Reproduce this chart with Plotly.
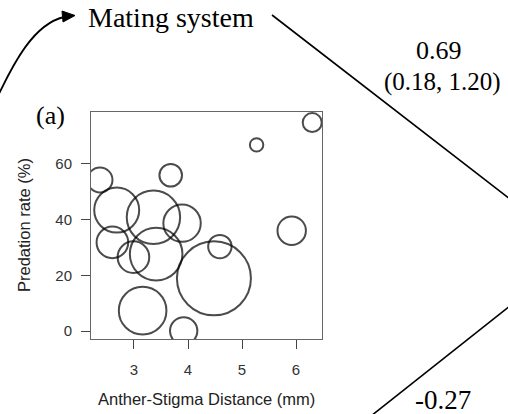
import plotly.graph_objects as go

# ---- data ----
anther_stigma_mm = [2.37, 3.68, 2.68, 3.36, 3.89, 2.60, 2.99, 3.41, 4.59, 4.48, 3.16, 3.92, 5.27, 6.30, 5.92]
predation_pct = [54.2, 55.9, 43.4, 40.8, 38.7, 31.8, 26.5, 27.6, 30.3, 18.9, 7.3, 0.0, 66.8, 74.8, 36.0]
bubble_weight = [12.5, 11.3, 22.5, 26.7, 18.7, 15.8, 15.8, 26.3, 11.7, 37.0, 23.8, 13.7, 6.7, 9.5, 14.2]

x_ticks = [3, 4, 5, 6]
y_ticks = [0, 20, 40, 60]

path_label_top = "0.69"
path_ci_top = "(0.18, 1.20)"
path_label_bottom = "-0.27"
node_label = "Mating system"
panel_label = "(a)"
x_title = "Anther-Stigma Distance (mm)"
y_title = "Predation rate (%)"

# ---- layout geometry (pixels) ----
W, H = 508, 414
L, R, T, B = 91, 322, 112, 339  # plot area edges in pixels


def px(xp):
    return (xp - L) / (R - L)


def py(yp):
    return (B - yp) / (B - T)


SERIF = "Liberation Serif, Times New Roman, serif"
SANS = "Liberation Sans, Arial, sans-serif"

fig = go.Figure()
fig.add_trace(go.Scatter(
    x=anther_stigma_mm, y=predation_pct, mode="markers",
    marker=dict(size=bubble_weight, sizemode="diameter", sizeref=0.5,
                color="rgba(0,0,0,0)", line=dict(color="black", width=2)),
    cliponaxis=True, hoverinfo="skip", showlegend=False,
))

axis_common = dict(
    showgrid=False, zeroline=False, showline=True, mirror=True,
    linecolor="#666", linewidth=1, ticks="outside", ticklen=9,
    tickcolor="#444", tickwidth=1,
    tickfont=dict(family=SANS, size=15, color="#333"),
)

fig.update_layout(
    width=W, height=H,
    margin=dict(l=L, r=W - R, t=T, b=H - B, pad=0),
    paper_bgcolor="white", plot_bgcolor="white",
    xaxis=dict(range=[2.204, 6.481], tickvals=x_ticks, ticklabelstandoff=8, **axis_common),
    yaxis=dict(range=[-2.87, 78.6], tickvals=y_ticks, ticklabelstandoff=6, **axis_common),
)

def ann(text, xp, yp, size, family, color="black", angle=0):
    fig.add_annotation(text=text, x=px(xp), y=py(yp), xref="paper", yref="paper",
                       showarrow=False, xanchor="center", yanchor="middle",
                       textangle=angle, font=dict(family=family, size=size, color=color))

ann(node_label, 171, 18, 28, SERIF)
ann(panel_label, 50, 115, 26, SERIF)
ann(path_label_top, 439, 50, 26, SERIF)
ann(path_ci_top, 442, 82, 25, SERIF)
ann(path_label_bottom, 443, 400, 27, SERIF)
ann(x_title, 206, 399, 16.5, SANS, "#222")
ann(y_title, 24, 225, 16.5, SANS, "#222", angle=-90)

# straight path lines
for (x0, y0, x1, y1) in [(272, 15, 510, 199), (510, 306, 371, 416)]:
    fig.add_shape(type="line", xref="paper", yref="paper",
                  x0=px(x0), y0=py(y0), x1=px(x1), y1=py(y1),
                  line=dict(color="black", width=1.6))

# curved arrow
def P(xp, yp):
    return f"{px(xp):.5f},{py(yp):.5f}"

curve = f"M {P(-3, 98)} C {P(14, 62)} {P(34, 24)} {P(64, 17)}"
fig.add_shape(type="path", xref="paper", yref="paper", path=curve,
              line=dict(color="black", width=1.8))
head = f"M {P(75, 15.5)} L {P(62, 11)} L {P(63, 22)} Z"
fig.add_shape(type="path", xref="paper", yref="paper", path=head,
              fillcolor="black", line=dict(color="black", width=1))

fig.write_html("out.html", config={"displayModeBar": False},
               post_script="document.body.style.margin='0';document.body.style.overflow='hidden';")
